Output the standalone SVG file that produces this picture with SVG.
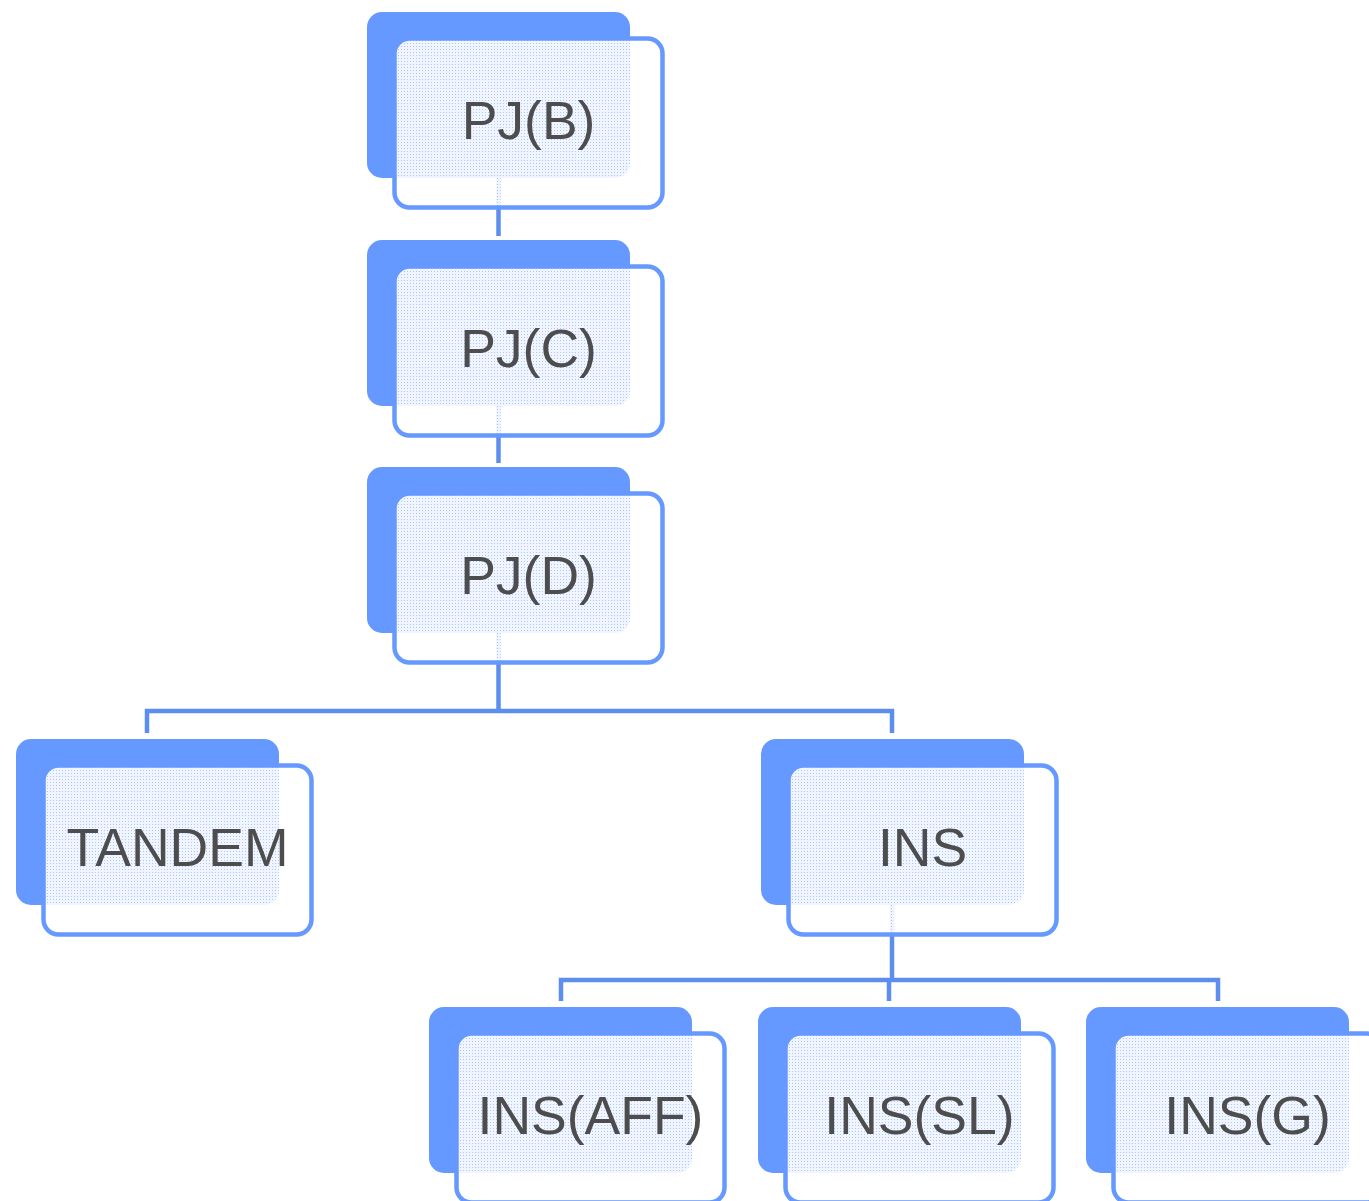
<svg xmlns="http://www.w3.org/2000/svg" width="1369" height="1201" viewBox="0 0 1369 1201">
<style>
.back{fill:#6699ff;}
.front{fill:url(#dots);stroke:#6699ff;stroke-width:4.5;}
.lbl{font-family:"Liberation Sans",Arial,sans-serif;font-size:53.5px;fill:#4d4d4d;text-anchor:middle;}
.conn{fill:none;stroke:#5b8eee;stroke-width:4.5;stroke-linejoin:miter;}
</style>
<defs>
<pattern id="dots" patternUnits="userSpaceOnUse" width="3" height="3">
<path d="M0 0H3V3H0Z M1 1H2V2H1Z" fill="#ffffff" fill-opacity="0.9" fill-rule="evenodd"/>
<rect x="1" y="1" width="1" height="1" fill="#ffffff" fill-opacity="0.45"/>
</pattern>
</defs>
<rect width="1369" height="1201" fill="#ffffff"/>
<g id="connectors">
<path class="conn" d="M498.5 178V236"/>
<path class="conn" d="M498.5 405V463"/>
<path class="conn" d="M498.5 632V711M147 733V711H892V733"/>
<path class="conn" d="M892 904V980M561 1001V980H1218V1001M889 980V1001"/>
</g>
<g id="pjb" transform="translate(367,12)">
<rect class="back" width="263" height="166" rx="15"/>
<rect class="front" x="27.5" y="26.5" width="268" height="169" rx="15"/>
<text class="lbl" x="161.5" y="127">PJ(B)</text>
</g>
<g id="pjc" transform="translate(367,240)">
<rect class="back" width="263" height="166" rx="15"/>
<rect class="front" x="27.5" y="26.5" width="268" height="169" rx="15"/>
<text class="lbl" x="161.5" y="127">PJ(C)</text>
</g>
<g id="pjd" transform="translate(367,467)">
<rect class="back" width="263" height="166" rx="15"/>
<rect class="front" x="27.5" y="26.5" width="268" height="169" rx="15"/>
<text class="lbl" x="161.5" y="127">PJ(D)</text>
</g>
<g id="tandem" transform="translate(16,739)">
<rect class="back" width="263" height="166" rx="15"/>
<rect class="front" x="27.5" y="26.5" width="268" height="169" rx="15"/>
<text class="lbl" x="161.5" y="127">TANDEM</text>
</g>
<g id="ins" transform="translate(761,739)">
<rect class="back" width="263" height="166" rx="15"/>
<rect class="front" x="27.5" y="26.5" width="268" height="169" rx="15"/>
<text class="lbl" x="161.5" y="127">INS</text>
</g>
<g id="insaff" transform="translate(429,1007)">
<rect class="back" width="263" height="166" rx="15"/>
<rect class="front" x="27.5" y="26.5" width="268" height="169" rx="15"/>
<text class="lbl" x="161.5" y="127">INS(AFF)</text>
</g>
<g id="inssl" transform="translate(758,1007)">
<rect class="back" width="263" height="166" rx="15"/>
<rect class="front" x="27.5" y="26.5" width="268" height="169" rx="15"/>
<text class="lbl" x="161.5" y="127">INS(SL)</text>
</g>
<g id="insg" transform="translate(1086,1007)">
<rect class="back" width="263" height="166" rx="15"/>
<rect class="front" x="27.5" y="26.5" width="268" height="169" rx="15"/>
<text class="lbl" x="161.5" y="127">INS(G)</text>
</g>
</svg>
